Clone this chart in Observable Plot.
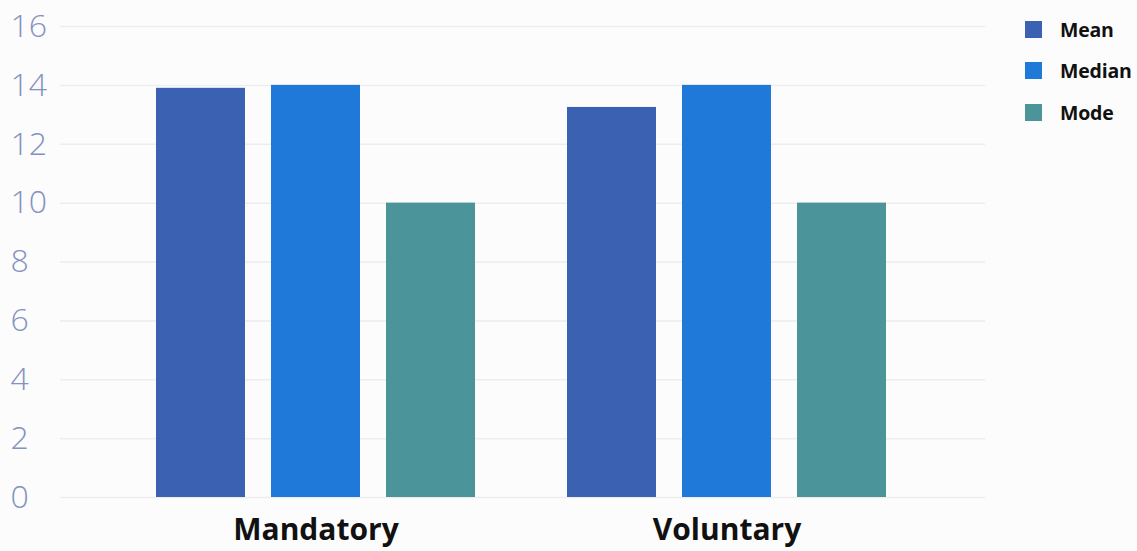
<!DOCTYPE html>
<html>
<head>
<meta charset="utf-8">
<script src="https://cdn.jsdelivr.net/npm/d3@7"></script>
<script src="https://cdn.jsdelivr.net/npm/@observablehq/plot@0.6"></script>
<style>
  html, body { margin: 0; padding: 0; background: #fcfcfc; }
  #wrap { position: relative; width: 1137px; height: 551px; overflow: hidden; }
  #wrap svg { position: absolute; left: 0; top: 0; }
  #legend { position: absolute; left: 1025px; top: 19px; font-family: "Open Sans", "Noto Sans", sans-serif; font-weight: 700; font-size: 19.5px; color: #111; letter-spacing: -0.2px; }
  #legend .row { display: flex; align-items: center; height: 20px; margin-bottom: 21.5px; }
  #legend .sw { width: 17px; height: 17px; margin-right: 18px; }
</style>
</head>
<body>
<div id="wrap"></div>
<script>
// Groups, statistics and values
const groups = ["Mandatory", "Voluntary"];
const stats = ["Mean", "Median", "Mode"];
const mandatory = [13.9, 14, 10];
const voluntary = [13.25, 14, 10];
const colors = ["#3a61b2", "#1f79d9", "#4b9499"];
const yTicks = [0, 2, 4, 6, 8, 10, 12, 14, 16];

const seriesByGroup = { Mandatory: mandatory, Voluntary: voluntary };
const data = groups.flatMap(g => stats.map((s, i) => ({ group: g, stat: s, value: seriesByGroup[g][i] })));

// Shared frame so the grid layer and the bar layer use identical scales
const frame = {
  width: 1137,
  height: 551,
  marginLeft: 60,
  marginRight: 152,
  marginTop: 26,
  marginBottom: 54,
  style: { background: "transparent", fontFamily: "'Open Sans', 'Noto Sans', sans-serif" },
  y: { domain: [0, 16], axis: null }
};

// Grid layer: full-width gridlines and left-aligned value labels
const grid = Plot.plot({
  ...frame,
  marks: [
    Plot.ruleY(yTicks, { stroke: "#ededed", strokeWidth: 1.5 }),
    Plot.text(yTicks, {
      y: d => d, text: d => String(d), frameAnchor: "left",
      dx: -50, textAnchor: "start", fontSize: 32, fontWeight: 300, fill: "#8492c0"
    })
  ]
});

// Bar layer: grouped bars faceted by group
const bars = Plot.plot({
  ...frame,
  fx: { domain: groups, paddingInner: 0.2184, paddingOuter: 0.2318, align: 0.492, axis: null, label: null },
  x: { domain: stats, paddingInner: 0.224, paddingOuter: 0, axis: null },
  color: { domain: stats, range: colors },
  marks: [
    Plot.axisFx({ anchor: "bottom", tickSize: 0, tickPadding: 21, fontSize: 30, fontWeight: "bold", fill: "#111", label: null }),
    Plot.barY(data, { fx: "group", x: "stat", y: "value", fill: "stat" })
  ]
});

const wrap = document.getElementById("wrap");
wrap.appendChild(grid);
wrap.appendChild(bars);

// Legend
const legend = document.createElement("div");
legend.id = "legend";
stats.forEach((s, i) => {
  const row = document.createElement("div");
  row.className = "row";
  const sw = document.createElement("span");
  sw.className = "sw";
  sw.style.background = colors[i];
  const label = document.createElement("span");
  label.textContent = s;
  row.appendChild(sw);
  row.appendChild(label);
  legend.appendChild(row);
});
wrap.appendChild(legend);
</script>
</body>
</html>
